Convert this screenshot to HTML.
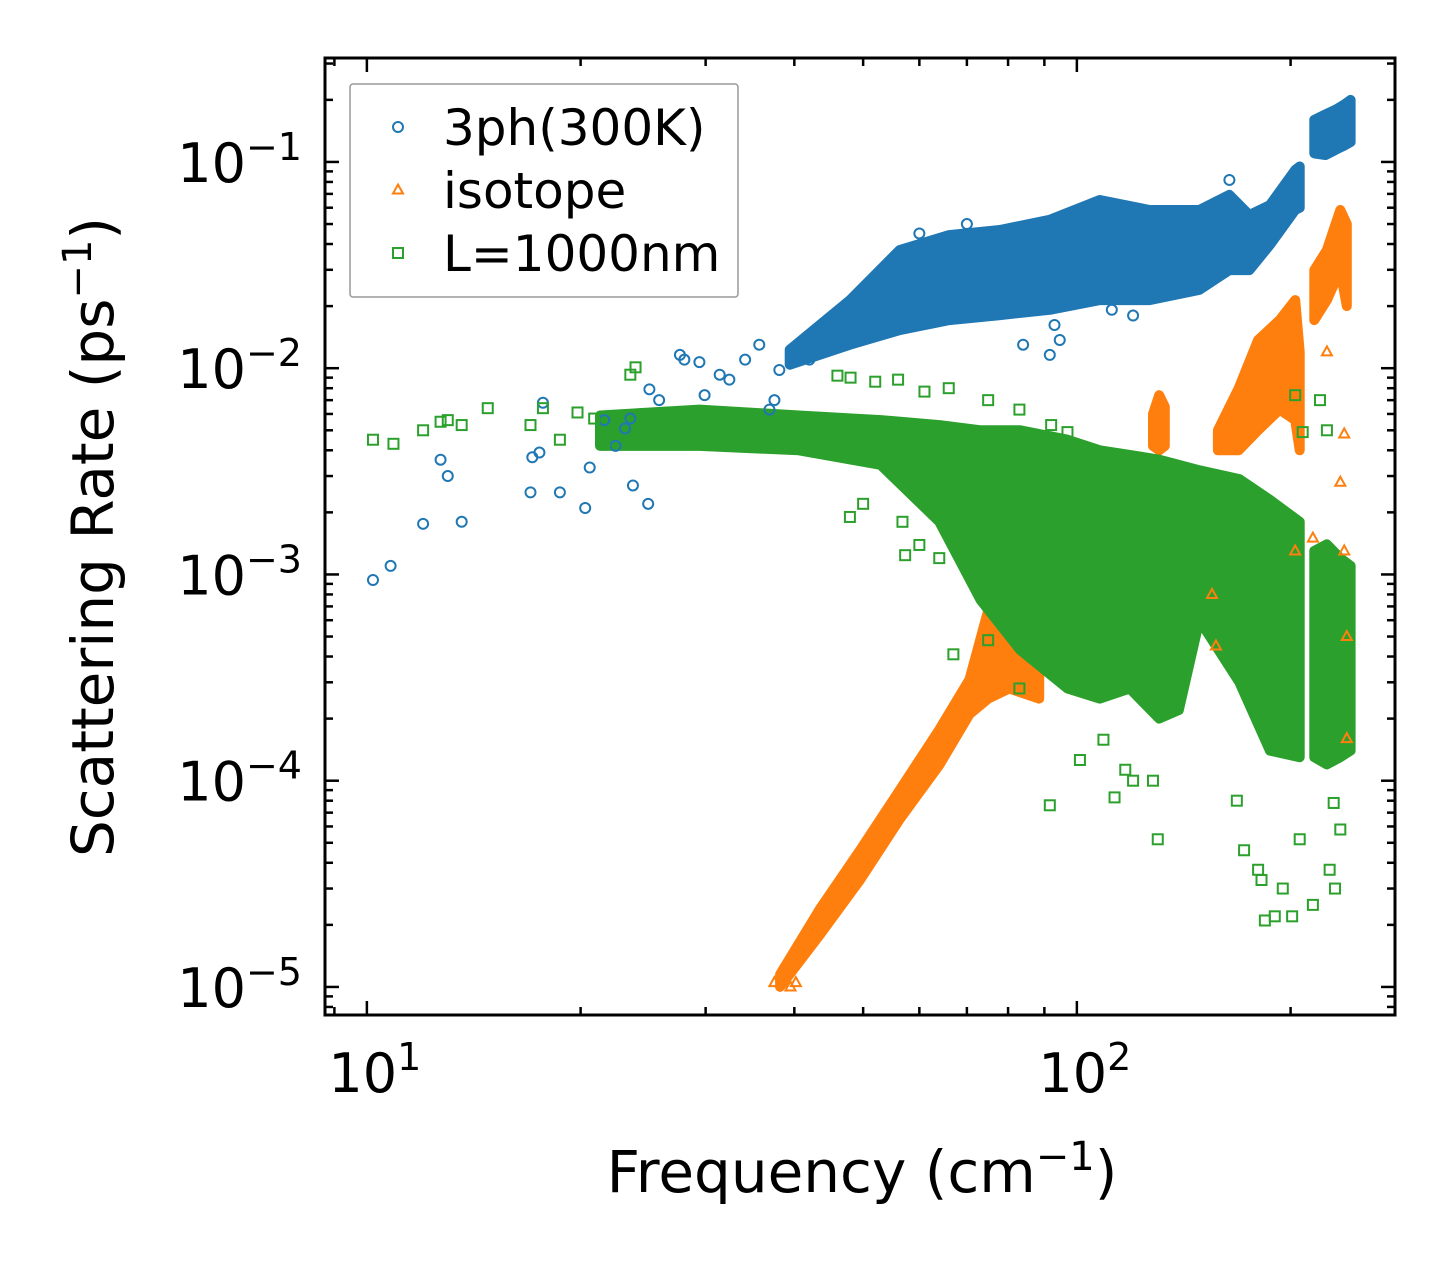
<!DOCTYPE html>
<html><head><meta charset="utf-8"><style>
html,body{margin:0;padding:0;background:#fff;}
svg text{font-family:"DejaVu Sans","Liberation Sans",sans-serif;fill:#000;}
</style></head><body>
<svg id="chart" width="1455" height="1265" viewBox="0 0 1455 1265" xmlns="http://www.w3.org/2000/svg">
<g id="bands"></g>
<g id="points"></g>
<g id="axes"></g>
</svg>
<script>
// ---- data (frequency cm^-1, scattering rate ps^-1) ----
const blueBandF  = [39.4,47.9,56.3,66.1,77.9,91.6,107.7,126.6,148.8,164,175,187,203,206];
const blueBandHi = [0.0123,0.0214,0.0374,0.0442,0.0468,0.0524,0.0654,0.0585,0.0585,0.0692,0.0553,0.0618,0.0914,0.095];
const blueBandLo = [0.0104,0.0130,0.0153,0.0171,0.0181,0.0192,0.0214,0.0214,0.0240,0.0299,0.0299,0.0396,0.0585,0.06];
const blueBand2F  = [216,224,232,238,243];
const blueBand2Hi = [0.16,0.17,0.18,0.19,0.2];
const blueBand2Lo = [0.11,0.108,0.115,0.12,0.125];
const blueF = [10.2,10.8,12.0,13.6,12.7,13.0,17.0,17.1,17.5,17.7,18.7,20.3,20.6,21.6,22.4,23.5,23.7,23.1,24.9,25.0,25.8,27.6,28.0,29.4,29.9,31.4,32.4,34.1,35.7,36.9,37.5,38.1,42,91.6,94.6,93,112,120,164,84,60,70];
const blueR = [0.00094,0.0011,0.00176,0.0018,0.0036,0.0030,0.0025,0.0037,0.0039,0.0068,0.0025,0.0021,0.0033,0.0056,0.0042,0.0057,0.0027,0.0051,0.0022,0.0079,0.0070,0.0116,0.0110,0.0107,0.0074,0.0093,0.0088,0.0110,0.0130,0.0063,0.0070,0.0098,0.0110,0.0116,0.0137,0.0162,0.0192,0.018,0.0818,0.013,0.045,0.05];

const orangeBandF  = [38.2,43.5,49.5,56.3,64.0,70.6,75.0,80.3,88.5];
const orangeBandHi = [1.15e-5,2.4e-5,4.6e-5,9.0e-5,1.77e-4,3.1e-4,6.7e-4,7.5e-4,6e-4];
const orangeBandLo = [1.0e-5,1.8e-5,3.3e-5,6.5e-5,1.19e-4,2.1e-4,2.5e-4,2.8e-4,2.5e-4];
const orangeBand2F  = [128,130.6,133];
const orangeBand2Hi = [0.006,0.0074,0.0065];
const orangeBand2Lo = [0.0042,0.0040,0.0042];
const orangeBand3F  = [158,169,180,193,203,206];
const orangeBand3Hi = [0.0050,0.0080,0.0137,0.0171,0.0214,0.012];
const orangeBand3Lo = [0.0040,0.0040,0.0050,0.0063,0.0056,0.0040];
const orangeBand4F  = [216,225,235,240];
const orangeBand4Hi = [0.0299,0.0374,0.0585,0.05];
const orangeBand4Lo = [0.0171,0.0214,0.0299,0.02];
const orangeF = [37.5,39.5,40.2,235,238,240,240,238,225,203,155,157,215];
const orangeR = [1.05e-5,1.0e-5,1.05e-5,0.0028,0.0013,1.6e-4,0.0005,0.0048,0.012,0.0013,0.0008,0.00045,0.0015];

const greenBandF  = [21.3,29.4,40.6,52.9,64.0,73.2,83.2,97.0,107.7,118.7,130.6,139.2,148.8,169.4,187,206];
const greenBandHi = [0.0059,0.0063,0.0059,0.0056,0.0053,0.0050,0.0050,0.0045,0.0040,0.0038,0.0036,0.0034,0.0032,0.0029,0.0023,0.0018];
const greenBandLo = [0.0042,0.0042,0.0040,0.0034,0.0018,0.00075,0.00043,0.00028,0.00025,0.00028,0.0002,0.00022,0.0006,0.0003,0.00014,0.00013];
const greenBand2F  = [216,225,235,243];
const greenBand2Hi = [0.0013,0.0014,0.0012,0.0011];
const greenBand2Lo = [0.00013,0.00012,0.00013,0.00014];
const greenF = [10.2,10.9,12.0,12.7,13.0,13.6,14.8,17.0,17.7,18.7,19.8,20.9,21.6,23.5,23.9,46,48,52,56,61,66,75,83,92,97,47.9,50,56.8,57.3,60,64,67,75,83,91.6,101,109,113,117,120,130,128,168,172,180,182,184,190,195,201,206,215,227,231,230,235,203,208,225,220];
const greenR = [0.0045,0.0043,0.0050,0.0055,0.0056,0.0053,0.0064,0.0053,0.0064,0.0045,0.0061,0.0057,0.0044,0.0093,0.0101,0.0092,0.0090,0.0086,0.0088,0.0077,0.0080,0.0070,0.0063,0.0053,0.0049,0.0019,0.0022,0.0018,0.00124,0.00139,0.0012,0.00041,0.00048,0.00028,7.6e-5,1.26e-4,1.58e-4,8.3e-5,1.13e-4,1.0e-4,5.2e-5,1.0e-4,8.0e-5,4.6e-5,3.7e-5,3.3e-5,2.1e-5,2.2e-5,3.0e-5,2.2e-5,5.2e-5,2.5e-5,3.7e-5,3.0e-5,7.8e-5,5.8e-5,0.0074,0.0049,0.0050,0.0070];

// ---- axes geometry ----
const L=325,R=1395,T=58,B=1015;
const xMinL=Math.log10(8.73), xMaxL=Math.log10(280.6);
const yMinL=-5.136, yMaxL=-0.496;
function X(f){return L+(Math.log10(f)-xMinL)/(xMaxL-xMinL)*(R-L);}
function Y(r){return B-(Math.log10(r)-yMinL)/(yMaxL-yMinL)*(B-T);}
const NS="http://www.w3.org/2000/svg";
function mk(tag,parent,attrs){const e=document.createElementNS(NS,tag);for(const k in attrs)e.setAttribute(k,attrs[k]);parent.appendChild(e);return e;}
const C={blue:"#1f77b4",orange:"#ff7f0e",green:"#2ca02c"};

const bandsG=document.getElementById('bands');
const ptsG=document.getElementById('points');
function band(F,Hi,Lo,col,name){
  let d='';
  F.forEach((f,i)=>{d+=(i?'L':'M')+X(f).toFixed(1)+','+Y(Hi[i]).toFixed(1);});
  for(let i=F.length-1;i>=0;i--)d+='L'+X(F[i]).toFixed(1)+','+Y(Lo[i]).toFixed(1);
  d+='Z';
  const p=mk('path',bandsG,{d:d,fill:col,stroke:col,'stroke-width':10,'stroke-linejoin':'round'});
  
  
}
function marker(g,kind,x,y,col){
  let e;
  if(kind==='c') e=mk('circle',g,{cx:x,cy:y,r:5,fill:'none',stroke:col,'stroke-width':2});
  else if(kind==='t') e=mk('path',g,{d:`M${x},${y-5.5}L${x+5},${y+3.5}L${x-5},${y+3.5}Z`,fill:'none',stroke:col,'stroke-width':2});
  else e=mk('rect',g,{x:x-5,y:y-5,width:10,height:10,fill:'none',stroke:col,'stroke-width':2});
  return e;
}
function scatter(F,Rr,kind,col,name){
  F.forEach((f,i)=>{
    const e=marker(ptsG,kind,X(f),Y(Rr[i]),col);
    
    
  });
}
band(blueBandF,blueBandHi,blueBandLo,C.blue,'3ph-dense-band');
band(blueBand2F,blueBand2Hi,blueBand2Lo,C.blue,'3ph-dense-band-high');
scatter(blueF,blueR,'c',C.blue,'3ph-point');
band(orangeBandF,orangeBandHi,orangeBandLo,C.orange,'isotope-band-low');
band(orangeBand2F,orangeBand2Hi,orangeBand2Lo,C.orange,'isotope-band-mid');
band(orangeBand3F,orangeBand3Hi,orangeBand3Lo,C.orange,'isotope-band-high');
band(orangeBand4F,orangeBand4Hi,orangeBand4Lo,C.orange,'isotope-band-top');
scatter(orangeF,orangeR,'t',C.orange,'isotope-point');
band(greenBandF,greenBandHi,greenBandLo,C.green,'boundary-dense-band');
band(greenBand2F,greenBand2Hi,greenBand2Lo,C.green,'boundary-dense-band-high');
scatter(greenF,greenR,'s',C.green,'boundary-point');

// ---- axes ----
const ax=document.getElementById('axes');
const frame=mk('rect',ax,{x:L,y:T,width:R-L,height:B-T,fill:'none',stroke:'#000','stroke-width':3});


const xMajors=[10,100];
const xMajorLabels=['1','2'];
const yMajors=[-1,-2,-3,-4,-5];
function tick(x1,y1,x2,y2,name){const t=mk('line',ax,{x1:x1,y1:y1,x2:x2,y2:y2,stroke:'#000','stroke-width':2.5});
  
  }
for(let dec=1;dec<=100;dec*=10){for(let m=1;m<=9;m++){const f=dec*m; if(f<8.73||f>280.6)continue;const x=X(f);const len=(m===1)?14:8;
  tick(x,B,x,B-len,'x-tick');tick(x,T,x,T+len,'x-tick-top');}}
for(let e=-6;e<=-1;e++){for(let m=1;m<=9;m++){const r=m*Math.pow(10,e);const y=Y(r);if(y<T||y>B)continue;const len=(m===1)?14:8;
  tick(L,y,L+len,y,'y-tick');tick(R,y,R-len,y,'y-tick-right');}}
xMajors.forEach((f,i)=>{
  const t=mk('text',ax,{x:X(f)+8,y:1092,'font-size':54,'text-anchor':'middle'});
  
  
  t.innerHTML='10<tspan dy="-22" font-size="38">'+xMajorLabels[i]+'</tspan>';
});
yMajors.forEach(e=>{
  const t=mk('text',ax,{x:302,y:Y(Math.pow(10,e))+20,'font-size':54,'text-anchor':'end'});
  
  
  t.innerHTML='10<tspan dy="-22" font-size="38">\u2212'+(-e)+'</tspan>';
});
const xt=mk('text',ax,{x:862,y:1192,'font-size':58,'text-anchor':'middle'});


xt.innerHTML='Frequency (cm<tspan dy="-22" font-size="40">\u22121</tspan><tspan dy="22">)</tspan>';
const yt=mk('text',ax,{x:0,y:0,'font-size':58,'text-anchor':'middle',transform:'translate(113,537) rotate(-90)'});


yt.innerHTML='Scattering Rate (ps<tspan dy="-22" font-size="40">\u22121</tspan><tspan dy="22">)</tspan>';

// ---- legend ----
const lg=mk('g',ax,{});


mk('rect',lg,{x:350,y:84,width:388,height:213,fill:'#fff','fill-opacity':0.8,stroke:'#999','stroke-width':1.5,rx:3});
const legNames=['3ph(300K)','isotope','L=1000nm'];
const legKinds=['c','t','s'];
const legCols=[C.blue,C.orange,C.green];
legNames.forEach((n,i)=>{
  const y=127+i*63;
  const m=marker(lg,legKinds[i],398,y,legCols[i]);
  
  
  const t=mk('text',lg,{x:443,y:y+18,'font-size':50});
  
  
  t.textContent=n;
});
</script>
</body></html>
